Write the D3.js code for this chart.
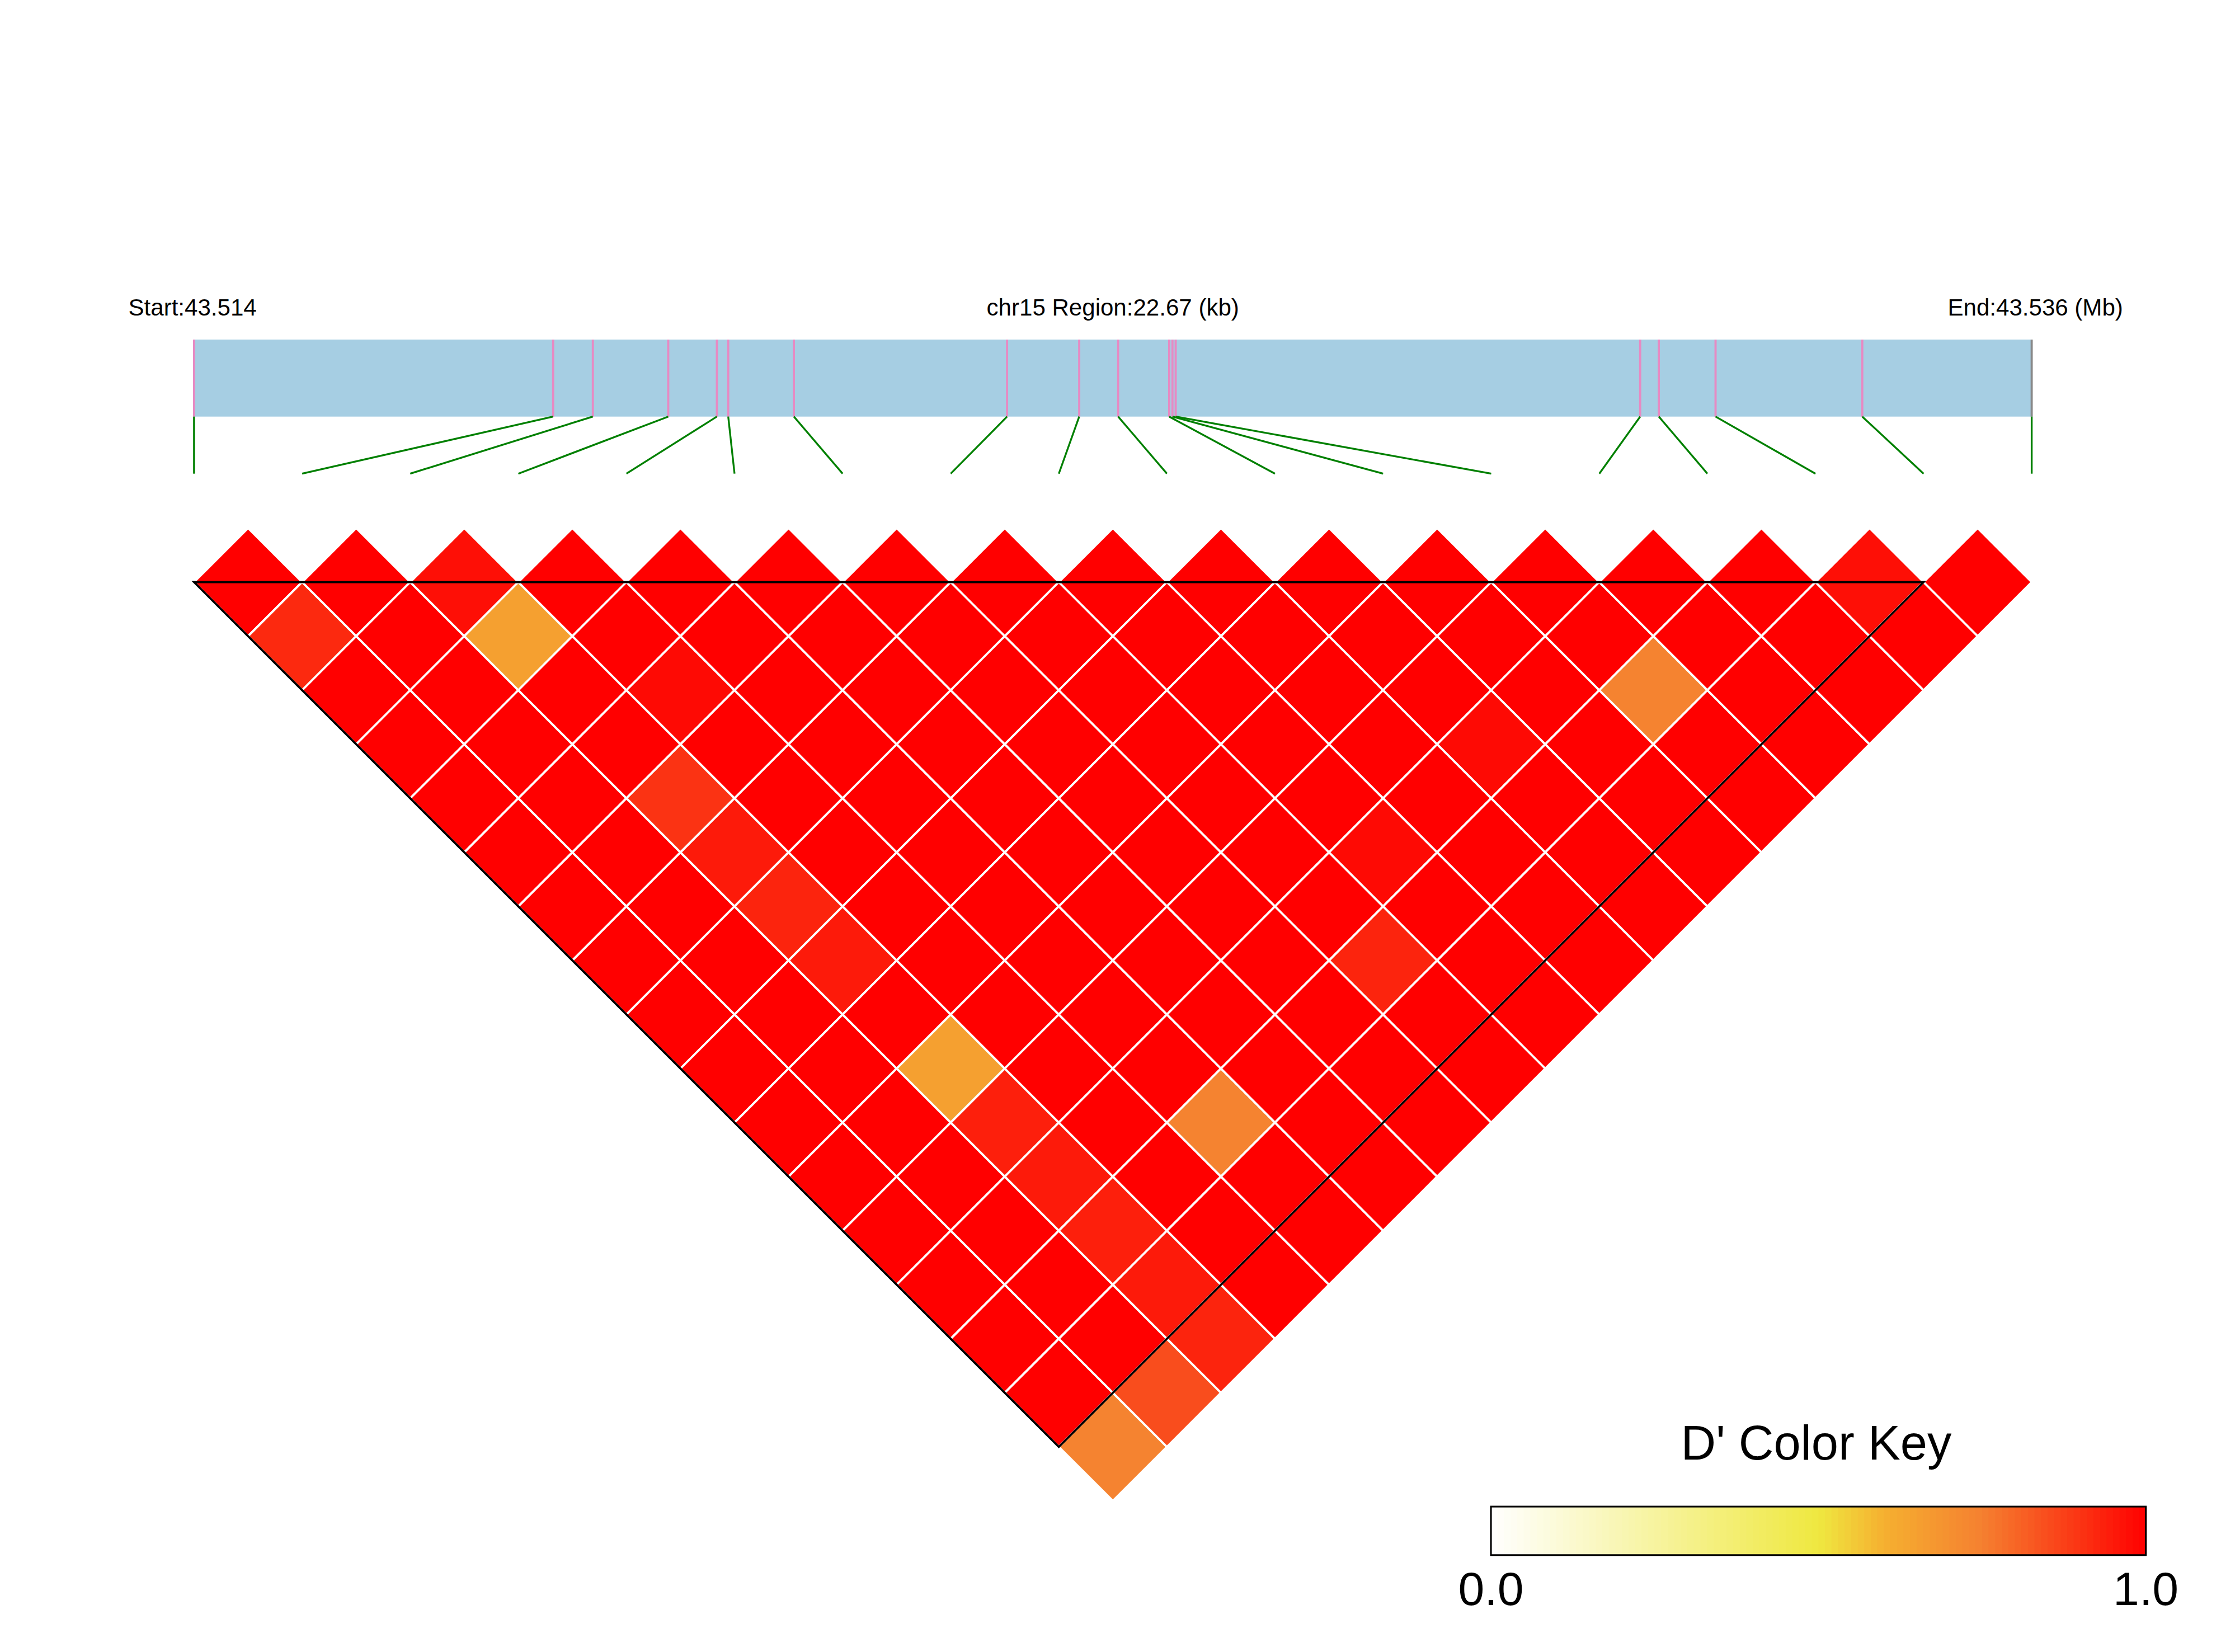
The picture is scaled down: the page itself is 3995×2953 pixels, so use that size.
<!DOCTYPE html>
<html><head><meta charset="utf-8">
<script src="https://cdn.jsdelivr.net/npm/d3@7"></script>
<style>body{margin:0;background:#fff}</style></head>
<body><svg id="c"></svg>
<script>
// SNP genomic offsets (kb from start) and D' rows (row i: pairs with j=i+1..17)
const snpKb = [0.00,4.43,4.92,5.85,6.45,6.59,7.40,10.03,10.92,11.40,12.03,12.07,12.11,17.84,18.07,18.77,20.58,22.67];
const dprime = [
 [1,0.92,1,1,1,1,1,1,1,1,1,1,1,1,1,1,0.74],
 [1,1,1,1,1,1,1,1,1,1,1,1,1,1,1,0.85],
 [0.97,0.65,1,1,0.9,0.95,0.93,0.95,1,0.65,0.94,0.95,0.94,0.95,0.93],
 [1,1,0.98,1,1,1,1,1,1,1,1,1,1,1],
 [1,1,1,1,1,1,1,1,1,1,0.74,1,1],
 [1,1,1,1,1,1,1,1,1,1,1,1],
 [1,1,1,1,1,1,1,1,1,1,1],
 [1,1,1,1,1,1,1,0.93,1,1],
 [1,1,1,1,1,0.98,1,1,1],
 [1,1,1,1,1,1,1,1],
 [1,1,1,0.98,1,1,1],
 [1,1,1,1,1,1],
 [1,1,0.74,1,1],
 [1,1,1,1],
 [1,1,1],
 [0.97,1],
 [1]
];
const keyTicks = ["0.0","1.0"];
const startMb = 43.514, endMb = 43.536, regionKb = 22.67;

const W=1566.5,H=W*2953/3995;
const svg=d3.select("#c").attr("width",3995).attr("height",2953).attr("viewBox",`0 0 ${W} ${H}`);
const n=snpKb.length;
const x0=136,x1=1424;
const gx=d3.scaleLinear().domain([0,regionKb]).range([x0,x1]);
const px=d3.scalePoint().domain(d3.range(n)).range([x0,x1]);
const w=(x1-x0)/(n-1), topY=408;
const col=d3.scaleLinear().domain([0,0.5,0.6,0.75,1]).range(["#ffffff","#efe840","#f5b030","#f58030","#ff0000"]);

const font="Arial, Liberation Sans, sans-serif";
svg.append("text").attr("x",90).attr("y",221).attr("font-size",16.5).attr("font-family",font).text("Start:"+startMb.toFixed(3));
svg.append("text").attr("x",780).attr("y",221).attr("text-anchor","middle").attr("font-size",16.5).attr("font-family",font).text(`chr15 Region:${regionKb} (kb)`);
svg.append("text").attr("x",1488).attr("y",221).attr("text-anchor","end").attr("font-size",16.5).attr("font-family",font).text(`End:${endMb.toFixed(3)} (Mb)`);

svg.append("rect").attr("x",x0).attr("y",238).attr("width",x1-x0).attr("height",54).attr("fill","#a6cee3");
svg.selectAll(".snp").data(snpKb).join("line").attr("x1",d=>gx(d)).attr("x2",d=>gx(d)).attr("y1",238).attr("y2",292)
 .attr("stroke",(d,i)=>i==n-1?"#888":"#e78ac3").attr("stroke-width",1.5);
svg.selectAll(".lk").data(snpKb).join("line").attr("x1",d=>gx(d)).attr("y1",292).attr("x2",(d,i)=>px(i)).attr("y2",332)
 .attr("stroke","green").attr("stroke-width",1.3);

const cells=[];
dprime.forEach((row,i)=>row.forEach((v,m)=>{const j=i+1+m;cells.push({i,j,v});}));
const h=w/2;
svg.selectAll(".cell").data(cells).join("path")
 .attr("d",d=>{const cx=(px(d.i)+px(d.j))/2, cy=topY+(d.j-d.i-1)*h;
   return `M${cx},${cy-h}L${cx+h},${cy}L${cx},${cy+h}L${cx-h},${cy}Z`;})
 .attr("fill",d=>col(d.v)).attr("stroke","#fff").attr("stroke-width",1.5);

svg.append("path").attr("d",`M${px(0)},${topY}L${px(n-2)},${topY}L${(px(0)+px(n-2))/2},${topY+(n-2)*h}Z`)
 .attr("fill","none").attr("stroke","#000").attr("stroke-width",1.5);

// color key
const kx=1045,kw=459,ky=1056,kh=34,steps=100;
svg.selectAll(".key").data(d3.range(steps)).join("rect").attr("x",d=>kx+d*kw/steps).attr("y",ky).attr("width",kw/steps+0.6).attr("height",kh)
 .attr("fill",d=>col((d+0.5)/steps));
svg.append("rect").attr("x",kx).attr("y",ky).attr("width",kw).attr("height",kh).attr("fill","none").attr("stroke","#000").attr("stroke-width",1.2);
svg.append("text").attr("x",1273).attr("y",1023).attr("text-anchor","middle").attr("font-size",34).attr("font-family",font).text("D' Color Key");
svg.append("text").attr("x",kx).attr("y",1125).attr("text-anchor","middle").attr("font-size",33).attr("font-family",font).text(keyTicks[0]);
svg.append("text").attr("x",kx+kw).attr("y",1125).attr("text-anchor","middle").attr("font-size",33).attr("font-family",font).text(keyTicks[1]);
</script></body></html>
